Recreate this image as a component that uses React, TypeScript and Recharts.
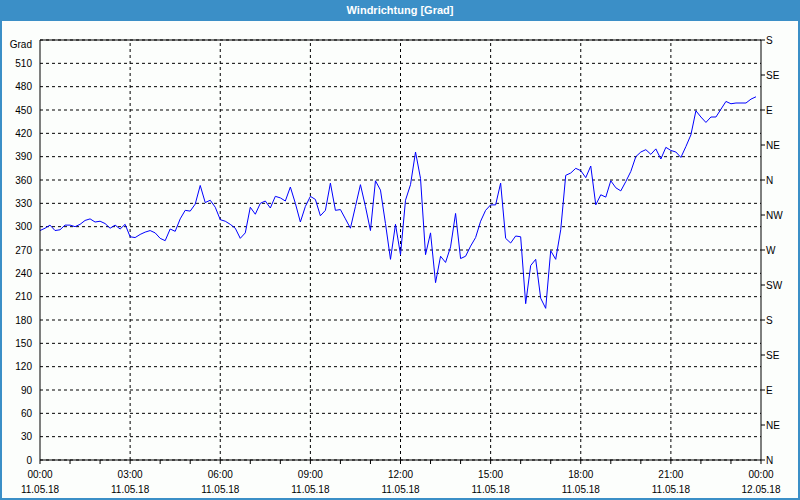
import { CartesianGrid, Line, LineChart, ReferenceLine, XAxis, YAxis } from "recharts";

// wind direction every 10 minutes, 11.05.18 00:00 - 23:50
const directions = [
  295, 298, 302, 295, 296, 302, 302, 300, 303, 308, 310, 306, 307, 304, 298, 302, 297, 303,
  287, 286, 290, 293, 295, 292, 285, 282, 297, 294, 310, 321, 320, 329, 353, 331, 334, 325,
  309, 307, 303, 298, 285, 292, 325, 316, 330, 333, 324, 339, 337, 333, 351, 330, 306, 326,
  339, 335, 314, 321, 356, 321, 322, 310, 298, 326, 354, 326, 295, 359, 347, 304, 258, 303,
  264, 334, 354, 396, 362, 264, 292, 228, 262, 254, 274, 317, 259, 262, 275, 286, 307, 321,
  328, 328, 356, 285, 279, 288, 287, 201, 250, 258, 208, 195, 269, 258, 296, 366, 369, 375,
  372, 363, 378, 328, 341, 338, 359, 350, 346, 358, 371, 390, 396, 399, 393, 400, 387, 402,
  398, 396, 389, 403, 418, 449, 441, 434, 441, 441, 451, 461, 458, 459, 459, 459, 464, 467,
];
const STEP_MINUTES = 10;

const timeLabels = ["00:00", "03:00", "06:00", "09:00", "12:00", "15:00", "18:00", "21:00", "00:00"];
const dateLabels = ["11.05.18", "11.05.18", "11.05.18", "11.05.18", "11.05.18", "11.05.18", "11.05.18", "11.05.18", "12.05.18"];
const degreeTicks = [0, 30, 60, 90, 120, 150, 180, 210, 240, 270, 300, 330, 360, 390, 420, 450, 480, 510, 540];
const compassTicks = [0, 45, 90, 135, 180, 225, 270, 315, 360, 405, 450, 495, 540];
const compassLabels = ["N", "NE", "E", "SE", "S", "SW", "W", "NW", "N", "NE", "E", "SE", "S"];
const hourTicks = Array.from({ length: 25 }, (_, h) => h * 60);
const majorTicks = [0, 180, 360, 540, 720, 900, 1080, 1260, 1440];

const data = directions.map((v, i) => ({ t: i * STEP_MINUTES, dir: v }));

const FONT = "'Liberation Sans', Arial, sans-serif";
const BLUE = "#3b8fc7";

const LeftTick = (props: any) => {
  const { x, y, payload } = props;
  const top = payload.value === 540;
  return (
    <text x={x} y={y + (top ? 4 : 0)} dy="0.36em" textAnchor="end" fontSize={10} fontFamily={FONT} fill="#000">
      {top ? "Grad" : payload.value}
    </text>
  );
};

const RightTick = (props: any) => {
  const { x, y, payload } = props;
  const idx = compassTicks.indexOf(payload.value);
  return (
    <text x={x} y={y} dy="0.36em" textAnchor="start" fontSize={10} fontFamily={FONT} fill="#000">
      {compassLabels[idx]}
    </text>
  );
};

const BottomTick = (props: any) => {
  const { x, payload } = props;
  const idx = majorTicks.indexOf(payload.value);
  if (idx < 0) return null;
  return (
    <g fontSize={10} fontFamily={FONT} fill="#000">
      <text x={x} y={477.5} textAnchor="middle">{timeLabels[idx]}</text>
      <text x={x} y={492.5} textAnchor="middle">{dateLabels[idx]}</text>
    </g>
  );
};

export default function App() {
  return (
    <div style={{ position: "fixed", left: 0, top: 0, width: 800, height: 500, background: "#fcfefc", overflow: "hidden" }}>
      <div style={{ position: "absolute", left: 0, top: 0 }}>
        <LineChart width={800} height={500} data={data} margin={{ top: 40, right: 0, bottom: 0, left: 0 }}>
          <CartesianGrid yAxisId="left" vertical={false} stroke="#000" strokeDasharray="3 3" />
          {majorTicks.slice(1, -1).map((m) => (
            <ReferenceLine key={m} yAxisId="left" x={m} stroke="#000" strokeDasharray="3 3" />
          ))}
          <ReferenceLine yAxisId="left" y={540} stroke="#000" />
          <XAxis
            dataKey="t"
            type="number"
            domain={[0, 1440]}
            ticks={hourTicks}
            interval={0}
            height={40}
            axisLine={{ stroke: "#000" }}
            tickLine={{ stroke: "#000" }}
            tickSize={4}
            tick={<BottomTick />}
          />
          <YAxis
            yAxisId="left"
            domain={[0, 540]}
            ticks={degreeTicks}
            interval={0}
            width={40}
            axisLine={{ stroke: "#000" }}
            tickLine={false}
            tick={<LeftTick />}
          />
          <YAxis
            yAxisId="right"
            orientation="right"
            domain={[0, 540]}
            ticks={compassTicks}
            interval={0}
            width={39}
            axisLine={{ stroke: "#000" }}
            tickLine={{ stroke: "#000" }}
            tickSize={4}
            tickMargin={1}
            tick={<RightTick />}
          />
          {/* invisible copy so the compass axis gets its ticks */}
          <Line
            yAxisId="right"
            type="linear"
            dataKey="dir"
            stroke="none"
            dot={false}
            activeDot={false}
            legendType="none"
            isAnimationActive={false}
          />
          <Line
            yAxisId="left"
            type="linear"
            dataKey="dir"
            stroke="#0000ff"
            strokeWidth={1}
            dot={false}
            isAnimationActive={false}
          />
        </LineChart>
      </div>
      <div
        style={{
          position: "absolute", left: 0, top: 0, width: 800, height: 21, background: BLUE,
          color: "#fff", fontFamily: FONT, fontSize: 11, fontWeight: "bold",
          textAlign: "center", lineHeight: "20px",
        }}
      >
        Windrichtung [Grad]
      </div>
      <div style={{ position: "absolute", left: 0, top: 21, width: 2, height: 479, background: BLUE }} />
      <div style={{ position: "absolute", right: 0, top: 21, width: 2, height: 479, background: BLUE }} />
      <div style={{ position: "absolute", left: 0, bottom: 0, width: 800, height: 2, background: BLUE }} />
    </div>
  );
}
